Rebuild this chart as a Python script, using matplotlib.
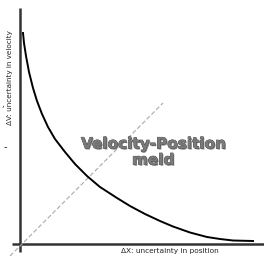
import matplotlib
matplotlib.use("Agg")
import matplotlib.pyplot as plt
import matplotlib.patheffects as pe

# data (origin at the axes' crossing)
curve_x = [3, 4, 6, 9, 13, 17, 22, 28, 35, 45, 55, 67, 80, 97, 110, 125, 140, 153, 170, 187, 200, 213, 233]
curve_y = [211, 201, 188, 172, 156, 143, 130, 117, 105, 92, 80, 68, 57, 46, 38, 30, 23, 17.5, 11.5, 7, 5, 3.5, 3]
diag_x = [-10, 143]
diag_y = [-12, 141]
x_label = "ΔX: uncertainty in position"
y_label = "ΔV: uncertainty in velocity"
title_text = "Velocity-Position\nmeld"

fig = plt.figure(figsize=(2.64, 2.56), dpi=100)
ax = fig.add_axes([0, 0, 1, 1])
ax.set_xlim(-20, 244)
ax.set_ylim(-12, 244)
ax.axis("off")

ax.plot([0, 0], [-8, 236], color="#333333", lw=1.8, solid_capstyle="butt")
ax.plot([-8, 244], [0, 0], color="#333333", lw=1.8, solid_capstyle="butt")
ax.plot(diag_x, diag_y, color="#aaaaaa", lw=0.8, ls=(0, (4, 2)))
ax.plot(curve_x, curve_y, color="black", lw=1.4, solid_joinstyle="round")

ax.text(-10, 166, y_label, rotation=90, ha="center", va="center", fontsize=5.2, color="#222222")
ax.text(150, -7, x_label, ha="center", va="center", fontsize=5.3, color="#222222")
ax.text(-17, 140, ",", ha="center", va="center", fontsize=6, color="#222222")
ax.text(-15, 97, "-", ha="center", va="center", fontsize=7, color="#222222")

t = ax.text(133, 92, title_text, ha="center", va="center", fontsize=11,
            fontweight="bold", color="#7a7a7a", linespacing=1.1)
t.set_path_effects([pe.withSimplePatchShadow(offset=(0.8, -0.8), shadow_rgbFace="#333333", alpha=0.6),
                    pe.Stroke(linewidth=0.5, foreground="#444444"), pe.Normal()])

fig.savefig("out.png", dpi=100)
